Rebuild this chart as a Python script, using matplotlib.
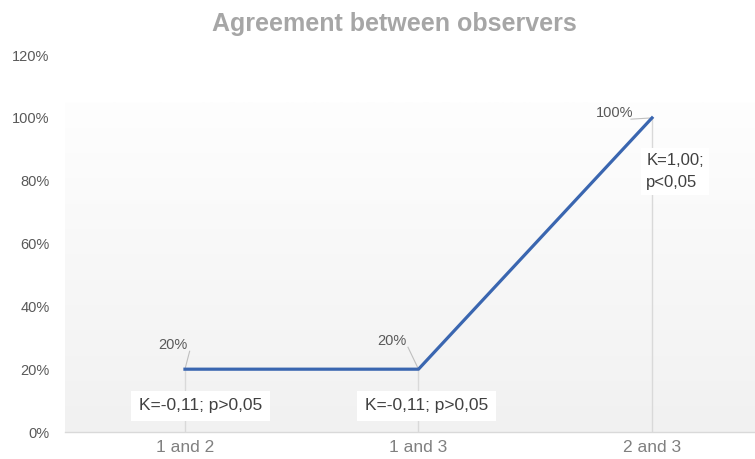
import matplotlib
matplotlib.use("Agg")
import matplotlib.pyplot as plt
import numpy as np
from matplotlib.ticker import FuncFormatter
from matplotlib.colors import LinearSegmentedColormap

plt.rcParams['font.family'] = ['Liberation Sans', 'DejaVu Sans']

categories = ["1 and 2", "1 and 3", "2 and 3"]
agreement = [0.20, 0.20, 1.00]
point_labels = ["20%", "20%", "100%"]
stats_labels = ["K=-0,11; p>0,05", "K=-0,11; p>0,05", "K=1,00;\np<0,05"]
y_ticks = [0, 0.2, 0.4, 0.6, 0.8, 1.0, 1.2]

fig = plt.figure(figsize=(7.55, 4.59), dpi=100)
ax = fig.add_axes([0.086, 0.0588, 0.914, 0.8212])
ax.set_facecolor("white")

XMIN, XMAX = -0.514, 2.441
# background gradient
grad = np.linspace(0, 1, 256).reshape(-1, 1)
cmap = LinearSegmentedColormap.from_list("bg", ["#f1f1f1", "#fefefe"])
ax.imshow(grad, extent=[XMIN, XMAX, 0, 1.05], origin="lower", aspect="auto",
          cmap=cmap, zorder=0)

x = list(range(len(categories)))

# drop lines
for xi, yi in zip(x, agreement):
    ax.plot([xi, xi], [0, yi], color="#d9d9d9", lw=1, zorder=1)

ax.plot(x, agreement, color="#3a66b0", lw=2.3, zorder=3)

# point labels with leader lines
label_offsets = [(-0.05, 0.277), (0.885, 0.29), (1.84, 1.016)]
for (lx, ly), xi, yi, txt in zip(label_offsets, x, agreement, point_labels):
    ax.text(lx, ly, txt, ha="center", va="center", fontsize=10.5, color="#595959", zorder=4)
    ax.plot([lx + 0.07, xi], [ly - 0.02, yi], color="#bfbfbf", lw=0.8, zorder=2)

# stat boxes
box = dict(boxstyle="square,pad=0.45", fc="white", ec="none")
ax.text(0.065, 0.083, stats_labels[0], ha="center", va="center", fontsize=12.5,
        color="#404040", bbox=box, zorder=5)
ax.text(1.035, 0.083, stats_labels[1], ha="center", va="center", fontsize=12.5,
        color="#404040", bbox=box, zorder=5)
ax.text(1.975, 0.83, stats_labels[2], ha="left", va="center", fontsize=12,
        color="#404040", linespacing=1.6,
        bbox=dict(boxstyle="square,pad=0.3", fc="white", ec="none"), zorder=5)

ax.set_xlim(XMIN, XMAX)
ax.set_ylim(0, 1.2)
ax.set_yticks(y_ticks)
ax.yaxis.set_major_formatter(FuncFormatter(lambda v, p: f"{v*100:.0f}%"))
ax.set_xticks(x)
ax.set_xticklabels(categories)
ax.tick_params(axis="y", length=0, labelsize=10.5, labelcolor="#595959", pad=11)
ax.tick_params(axis="x", length=0, labelsize=12.5, labelcolor="#808080", pad=6)

for s in ["top", "right", "left"]:
    ax.spines[s].set_visible(False)
ax.spines["bottom"].set_color("#d9d9d9")
ax.spines["bottom"].set_linewidth(1)

fig.text(0.523, 0.948, "Agreement between observers", ha="center", va="center",
         fontsize=18, fontweight="bold", color="#a6a6a6")

fig.savefig("out.png", dpi=100, facecolor="white")
